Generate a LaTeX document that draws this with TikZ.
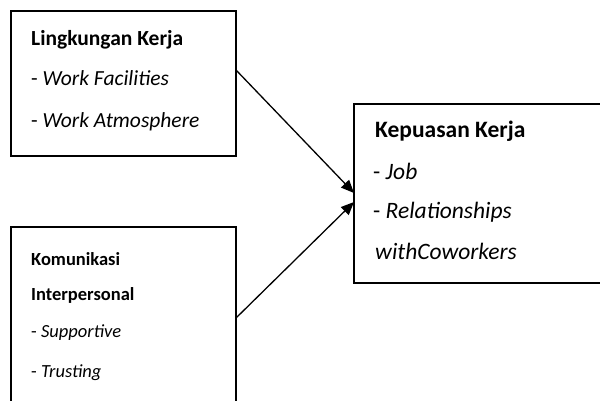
\documentclass[tikz,border=0pt]{standalone}
\usepackage{fontspec}
\setmainfont{Carlito}
\usepackage{tikz}
\usetikzlibrary{arrows.meta}

\begin{document}
\begin{tikzpicture}[x=1pt, y=-1pt,
    box/.style={draw, line width=1.5pt, inner sep=0pt, outer sep=0pt, anchor=north west},
    txt/.style={anchor=base west, inner sep=0pt, font=\fontsize{21.5}{25}\selectfont},
    big/.style={anchor=base west, inner sep=0pt, font=\fontsize{23.5}{28}\selectfont},
    small/.style={anchor=base west, inner sep=0pt, font=\fontsize{18.5}{22}\selectfont},
    link/.style={line width=1.3pt, -{Triangle[length=13pt,width=11pt]}}]
    \clip (0,0) rectangle (600,400);
    \useasboundingbox (0,0) rectangle (600,400);

    \node[box, minimum width=225pt, minimum height=145pt] (LK) at (11,11) {};
    \node[box, minimum width=225pt, minimum height=193pt] (KI) at (11,227) {};
    \node[box, minimum width=266pt, minimum height=179pt] (KK) at (354,104) {};

    \node[txt] (LK1) at (31,45) {\textbf{Lingkungan Kerja}};
    \node[txt] (LK2) at (31,85) {- \textit{Work Facilities}};
    \node[txt] (LK3) at (31,127) {- \textit{Work Atmosphere}};

    \node[small] (KI1) at (31,265) {\textbf{Komunikasi}};
    \node[small] (KI2) at (31,300) {\textbf{Interpersonal}};
    \node[small] (KI3) at (31,337) {- \textit{Supportive}};
    \node[small] (KI4) at (31,377) {- \textit{Trusting}};

    \node[big] (KK1) at (375,137) {\textbf{Kepuasan Kerja}};
    \node[big] (KK2) at (373,179) {- \textit{Job}};
    \node[big] (KK3) at (373,218) {- \textit{Relationships}};
    \node[big] (KK4) at (375,259) {\textit{withCoworkers}};

    \draw[link] ([yshift=13.5pt]LK.east) -- ([yshift=0.5pt]KK.west);
    \draw[link] ([yshift=5.5pt]KI.east) -- ([yshift=-8.5pt]KK.west);
\end{tikzpicture}
\end{document}
